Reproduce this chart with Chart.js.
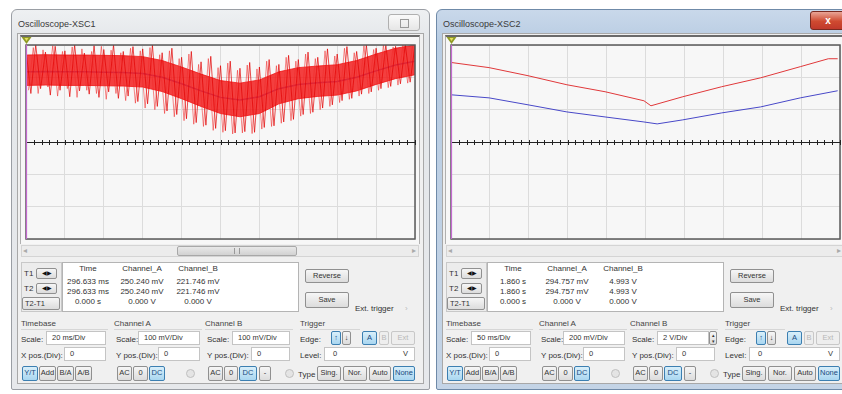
<!DOCTYPE html>
<html><head><meta charset="utf-8">
<script src="https://cdn.jsdelivr.net/npm/chart.js@4.4.1/dist/chart.umd.min.js"></script>
<style>
html,body{margin:0;padding:0;width:842px;height:394px;overflow:hidden;background:#fff;font-family:"Liberation Sans",Arial,sans-serif;font-size:8px;color:#333}
.a{position:absolute;white-space:nowrap;box-sizing:border-box}
.frame{border:1px solid #9a9ea4;border-radius:6px 6px 2px 2px;background:linear-gradient(#eef0f2,#e4e7ea 30px,#e6e8eb)}
.frame.act{background:linear-gradient(#c9d8ea,#b9cde3 30px,#c4d4e6);border-color:#6f8aa8}
.client{background:#f0f0f0;border:1px solid #a8a8a8}
.title{font-size:9px;color:#3a3a3a}
.plotwrap{background:#f7f7f7;border-top:2px solid #6a6a6a;border-left:1px solid #b0b0b0;border-right:1px solid #b0b0b0}
.sb{background:#ececec;border:1px solid #d4d4d4}
.thumb{background:linear-gradient(#e8e8e8,#d2d2d2);border:1px solid #a8a8a8;border-radius:2px}
.white{background:#fff;border:1px solid #b4b4b4}
.btn{background:linear-gradient(#f6f6f6,#dcdcdc);border:1px solid #909090;border-radius:2px;text-align:center;color:#333;font-size:7.5px;line-height:12px}
.btn.on{background:linear-gradient(#d9effa,#a9d6f0);border-color:#3c7fb1;color:#1a4a80}
.btn.off{color:#b8b8b8;border-color:#c8c8c8;background:#eeeeee}
.inp{background:#fff;border:1px solid #c4c4c4;font-size:7.5px;line-height:12px;padding-left:5px;color:#333}
.grp{border-bottom:1px solid #d6d6d6;color:#444}
.c{text-align:center}
.circ{border:1px solid #c0c0c0;border-radius:50%;background:#e4e4e4}
</style></head><body>
<div id="root"></div>
<script>
// ---------- data (left scope XSC1: 20 ms/Div, A & B 100 mV/Div) ----------
const leftTime = [0,10,20,30,40,50,60,70,80,90,100,110,120,130,140,150,160,170,180,190,200]; // ms
const leftChannelB = [217,218,217,217,216,215,212,200,180,158,138,130,140,165,178,183,187,200,220,238,250]; // mV (blue)
const leftChannelAUpper = [269,270,269,269,268,267,264,252,232,210,190,182,192,217,230,235,239,252,272,290,300]; // mV (red dense band, top)
const leftChannelALower = [175,176,175,175,174,173,170,156,134,110,88,78,88,118,134,141,145,158,178,196,208]; // mV (red dense band, bottom)
const leftChannelASpikes = [[0,285],[2.5,150],[5,300],[7.5,165],[10,278],[12.5,145],[15,296],[17.5,160],[20,282],[22.5,140],
 [25,300],[27.5,158],[30,275],[32.5,148],[35,298],[37.5,138],[40,286],[42.5,155],[45,300],[47.5,135],
 [50,280],[52.5,142],[55,295],[57.5,125],[60,288],[62.5,118],[65,300],[67.5,110],[70,276],[72.5,96],
 [75,290],[77.5,85],[80,262],[82.5,72],[85,280],[87.5,60],[90,248],[92.5,52],[95,265],[97.5,42],
 [100,236],[102.5,35],[105,250],[107.5,28],[110,228],[112.5,32],[115,246],[117.5,30],[120,232],[122.5,45],
 [125,255],[127.5,50],[130,240],[132.5,62],[135,268],[137.5,70],[140,255],[142.5,85],[145,278],[147.5,92],
 [150,262],[152.5,105],[155,288],[157.5,115],[160,272],[162.5,128],[165,295],[167.5,135],[170,280],[172.5,148],
 [175,300],[177.5,155],[180,290],[182.5,165],[185,300],[187.5,172],[190,296],[192.5,180],[195,300],[197.5,185],[200,300]];
const leftChannelASpikes2 = [[1.25,160],[3.75,292],[6.25,150],[8.75,285],[11.25,170],[13.75,298],[16.25,142],[18.75,280],[21.25,165],[23.75,294],
 [26.25,138],[28.75,288],[31.25,160],[33.75,280],[36.25,150],[38.75,296],[41.25,132],[43.75,284],[46.25,150],[48.75,276],
 [51.25,128],[53.75,290],[56.25,120],[58.75,282],[61.25,105],[63.75,292],[66.25,100],[68.75,270],[71.25,88],[73.75,282],
 [76.25,78],[78.75,258],[81.25,66],[83.75,272],[86.25,55],[88.75,240],[91.25,48],[93.75,258],[96.25,36],[98.75,230],
 [101.25,30],[103.75,244],[106.25,25],[108.75,222],[111.25,28],[113.75,238],[116.25,26],[118.75,226],[121.25,40],[123.75,250],
 [126.25,48],[128.75,236],[131.25,58],[133.75,262],[136.25,66],[138.75,250],[141.25,80],[143.75,272],[146.25,88],[148.75,258],
 [151.25,100],[153.75,282],[156.25,110],[158.75,266],[161.25,122],[163.75,290],[166.25,132],[168.75,276],[171.25,142],[173.75,298],
 [176.25,150],[178.75,286],[181.25,160],[183.75,300],[186.25,168],[188.75,294],[191.25,176],[193.75,300],[196.25,182],[198.75,298]];

// ---------- data (right scope XSC2: 50 ms/Div, A 200 mV/Div, B 2 V/Div) ----------
const rightTimeA = [0,49,99,149,198,248,257,298,348,398,449,485,497]; // ms
const rightChannelA = [492,460,410,354,311,255,224,280,342,397,466,515,515]; // mV (red)
const rightTimeB = [0,49,99,149,198,248,265,298,348,398,449,497]; // ms
const rightChannelB = [2.92,2.73,2.30,1.86,1.55,1.24,1.12,1.37,1.80,2.17,2.73,3.17]; // V (blue)

// ---------- readouts / settings ----------
const readoutHeaders = ["Time","Channel_A","Channel_B"];
const leftReadout = [["296.633 ms","250.240 mV","221.746 mV"],["296.633 ms","250.240 mV","221.746 mV"],["0.000 s","0.000 V","0.000 V"]];
const rightReadout = [["1.860 s","294.757 mV","4.993 V"],["1.860 s","294.757 mV","4.993 V"],["0.000 s","0.000 V","0.000 V"]];
const leftScales = ["20 ms/Div","100 mV/Div","100 mV/Div"];
const rightScales = ["50 ms/Div","200 mV/Div","2 V/Div"];

function b(x,y,w,h,cls,txt,st){
  return `<div class="a ${cls||''}" style="left:${x}px;top:${y}px;${w!=null?`width:${w}px;`:''}${h!=null?`height:${h}px;`:''}${st||''}">${txt==null?'':txt}</div>`;
}
function win(dx, title, active, readout, scales, thumbX, spinner){
  let h='';
  h+=b(dx+11,9,419,381,'frame'+(active?' act':''));
  h+=b(dx+18,19,null,null,'title',title);
  if(active){
    h+=b(dx+385,11,36,19,'', '<span style="color:#fff;font-size:10px;font-weight:bold">x</span>','background:linear-gradient(#e9a596,#cf4a30 55%,#c0392b);border:1px solid #7a2a20;border-radius:3px;text-align:center;line-height:17px');
  } else {
    h+=b(dx+388,14,32,17,'', '<span style="display:inline-block;width:7px;height:7px;border:1px solid #999;margin-top:4px"></span>','background:linear-gradient(#fafafa,#e6e6e6);border:1px solid #b0b0b0;border-radius:3px;text-align:center');
  }
  h+=b(dx+17,33,407,351,'client');
  h+=b(dx+20,35,400,209,'plotwrap');
  h+=`<canvas id="cv${dx}" class="a" style="left:${dx+21}px;top:36px" width="399" height="207"></canvas>`;
  // scrollbar
  h+=b(dx+21,245,398,12,'sb');
  h+=b(dx+thumbX,246,120,10,'thumb', '<span style="display:block;margin:1px auto;width:4px;height:6px;border-left:1px solid #999;border-right:1px solid #999"></span>');
  h+=b(dx+23,246,null,null,'','&#9666;','color:#aaa;font-size:8px');
  h+=b(dx+412,246,null,null,'','&#9656;','color:#aaa;font-size:8px');
  // readout
  h+=b(dx+21,262,41,50,'', '', 'border:1px solid #c8c8c8;background:#ececec');
  h+=b(dx+24,269,null,null,'','T1');
  h+=b(dx+36,268,21,11,'btn','&#9664;&#9654;','font-size:6px;line-height:9px;color:#111');
  h+=b(dx+24,284,null,null,'','T2');
  h+=b(dx+36,283,21,11,'btn','&#9664;&#9654;','font-size:6px;line-height:9px;color:#111');
  h+=b(dx+22,297,38,13,'btn','T2-T1','text-align:left;padding-left:2px');
  h+=b(dx+62,262,237,50,'white');
  const cx=[88,142,198];
  for(let i=0;i<3;i++){
    h+=b(dx+cx[i]-35,264,70,null,'c',readoutHeaders[i]);
    for(let r=0;r<3;r++) h+=b(dx+cx[i]-35,277+r*10,70,null,'c',readout[r][i]);
  }
  h+=b(dx+305,269,44,14,'btn','Reverse');
  h+=b(dx+305,292,44,16,'btn','Save','line-height:14px');
  h+=b(dx+355,304,null,null,'','Ext. trigger');
  h+=b(dx+405,304,null,null,'','&#8250;','color:#bbb');
  // group headers
  h+=b(dx+21,319,87,11,'grp','Timebase');
  h+=b(dx+114,319,88,11,'grp','Channel A');
  h+=b(dx+205,319,88,11,'grp','Channel B');
  h+=b(dx+300,319,60,11,'grp','Trigger');
  // timebase
  h+=b(dx+21,335,null,null,'','Scale:');
  h+=b(dx+46,331,60,14,'inp',scales[0]);
  h+=b(dx+21,351,null,null,'','X pos.(Div):');
  h+=b(dx+64,347,42,14,'inp','0');
  h+=b(dx+22,366,16,15,'btn on','Y/T');
  h+=b(dx+39,366,17,15,'btn','Add');
  h+=b(dx+57,366,17,15,'btn','B/A');
  h+=b(dx+75,366,17,15,'btn','A/B');
  // channel A
  h+=b(dx+116,335,null,null,'','Scale:');
  h+=b(dx+138,331,62,14,'inp',scales[1]);
  h+=b(dx+116,351,null,null,'','Y pos.(Div):');
  h+=b(dx+158,347,42,14,'inp','0');
  h+=b(dx+117,366,15,15,'btn','AC');
  h+=b(dx+133,366,15,15,'btn','0');
  h+=b(dx+149,366,16,15,'btn on','DC');
  h+=b(dx+186,369,9,9,'circ');
  // channel B
  h+=b(dx+207,335,null,null,'','Scale:');
  if(spinner){
    h+=b(dx+232,331,52,14,'inp',scales[2]);
    h+=b(dx+284,331,8,14,'btn','&#9652;<br>&#9662;','font-size:5px;line-height:6px');
  } else {
    h+=b(dx+232,331,58,14,'inp',scales[2]);
  }
  h+=b(dx+207,351,null,null,'','Y pos.(Div):');
  h+=b(dx+251,347,39,14,'inp','0');
  h+=b(dx+208,366,15,15,'btn','AC');
  h+=b(dx+224,366,14,15,'btn','0');
  h+=b(dx+239,366,18,15,'btn on','DC');
  h+=b(dx+259,366,12,15,'btn','-');
  h+=b(dx+285,369,9,9,'circ');
  // trigger
  h+=b(dx+300,335,null,null,'','Edge:');
  h+=b(dx+331,331,10,14,'btn on','&#8593;');
  h+=b(dx+342,331,9,14,'btn','&#8595;');
  h+=b(dx+362,331,15,14,'btn on','A');
  h+=b(dx+379,331,10,14,'btn off','B');
  h+=b(dx+391,331,24,14,'btn off','Ext');
  h+=b(dx+300,351,null,null,'','Level:');
  h+=b(dx+324,347,91,14,'inp','0<span style="float:right;margin-right:6px">V</span>','padding-left:8px');
  h+=b(dx+298,370,null,null,'','Type');
  h+=b(dx+317,366,24,15,'btn','Sing.');
  h+=b(dx+343,366,24,15,'btn','Nor.');
  h+=b(dx+369,366,22,15,'btn','Auto');
  h+=b(dx+393,366,22,15,'btn on','None');
  return h;
}
document.getElementById('root').innerHTML =
  win(0,'Oscilloscope-XSC1',false,leftReadout,leftScales,177,false) +
  win(425,'Oscilloscope-XSC2',true,rightReadout,rightScales,603,true);

const scopePlugin = {
  id:'scope',
  afterDraw(chart){
    const o = chart.options.plugins.scope;
    const ca = chart.chartArea, ctx = chart.ctx;
    const xs = chart.scales.x, ys = chart.scales.y;
    const y0 = ys.getPixelForValue(0);
    ctx.save();
    ctx.strokeStyle='#5a5a5a'; ctx.lineWidth=1.5;
    ctx.strokeRect(ca.left, ca.top, ca.right-ca.left, ca.bottom-ca.top);
    ctx.strokeStyle='#222'; ctx.lineWidth=1;
    ctx.beginPath(); ctx.moveTo(ca.left,y0+0.5); ctx.lineTo(ca.right,y0+0.5); ctx.stroke();
    for(let v=xs.min; v<=xs.max+1e-9; v+=o.minor){
      const px=Math.round(xs.getPixelForValue(v))+0.5;
      ctx.beginPath(); ctx.moveTo(px,y0-2); ctx.lineTo(px,y0+3); ctx.stroke();
    }
    const cx = Math.round(xs.getPixelForValue(o.cursor))+0.5;
    ctx.strokeStyle='#c46ad0'; ctx.lineWidth=1.2;
    ctx.beginPath(); ctx.moveTo(cx,ca.top); ctx.lineTo(cx,ca.bottom); ctx.stroke();
    ctx.fillStyle='#8f9a25';
    ctx.beginPath(); ctx.moveTo(cx-5,ca.top-8); ctx.lineTo(cx+5,ca.top-8); ctx.lineTo(cx,ca.top-1); ctx.closePath(); ctx.fill();
    ctx.fillStyle='#e8e060';
    ctx.beginPath(); ctx.moveTo(cx-2,ca.top-7); ctx.lineTo(cx+2,ca.top-7); ctx.lineTo(cx,ca.top-4); ctx.closePath(); ctx.fill();
    ctx.restore();
  }
};

function baseOptions(xmax, xstep, ymax, ystep, minor, extraY){
  const scales = {
    x:{type:'linear',min:0,max:xmax,ticks:{display:false,stepSize:xstep},grid:{color:'#dcdcdc',drawTicks:false},border:{display:false}},
    y:{type:'linear',min:-ymax,max:ymax,ticks:{display:false,stepSize:ystep},grid:{color:'#dcdcdc',drawTicks:false},border:{display:false}}
  };
  if(extraY) scales.yB = extraY;
  return {
    responsive:false, animation:false,
    layout:{padding:{top:9,left:5,right:5,bottom:4}},
    elements:{point:{radius:0},line:{tension:0}},
    plugins:{legend:{display:false},tooltip:{enabled:false},scope:{minor:minor,cursor:0}},
    scales
  };
}

new Chart(document.getElementById('cv0'),{
  type:'line',
  data:{datasets:[
    {data:leftChannelASpikes2.map(p=>({x:p[0],y:p[1]})),borderColor:'rgba(240,40,40,0.55)',borderWidth:1,fill:false},
    {data:leftChannelASpikes.map(p=>({x:p[0],y:p[1]})),borderColor:'rgba(225,0,0,0.7)',borderWidth:1,fill:false},
    {data:leftTime.map((t,i)=>({x:t,y:leftChannelAUpper[i]})),borderColor:'rgba(240,20,20,0.8)',borderWidth:1,backgroundColor:'rgba(242,22,22,0.82)',fill:'+1'},
    {data:leftTime.map((t,i)=>({x:t,y:leftChannelALower[i]})),borderColor:'rgba(240,20,20,0.8)',borderWidth:1,fill:false},
    {data:leftTime.map((t,i)=>({x:t,y:leftChannelB[i]})),borderColor:'rgba(70,40,190,0.7)',borderWidth:1.5,fill:false}
  ]},
  options:baseOptions(200,20,300,100,4),
  plugins:[scopePlugin]
});

new Chart(document.getElementById('cv425'),{
  type:'line',
  data:{datasets:[
    {data:rightTimeA.map((t,i)=>({x:t,y:rightChannelA[i]})),borderColor:'#e0383a',borderWidth:1,fill:false,yAxisID:'y'},
    {data:rightTimeB.map((t,i)=>({x:t,y:rightChannelB[i]})),borderColor:'#4848c8',borderWidth:1,fill:false,yAxisID:'yB'}
  ]},
  options:baseOptions(500,50,600,200,10,{type:'linear',display:false,min:-6,max:6}),
  plugins:[scopePlugin]
});
</script>
</body></html>
